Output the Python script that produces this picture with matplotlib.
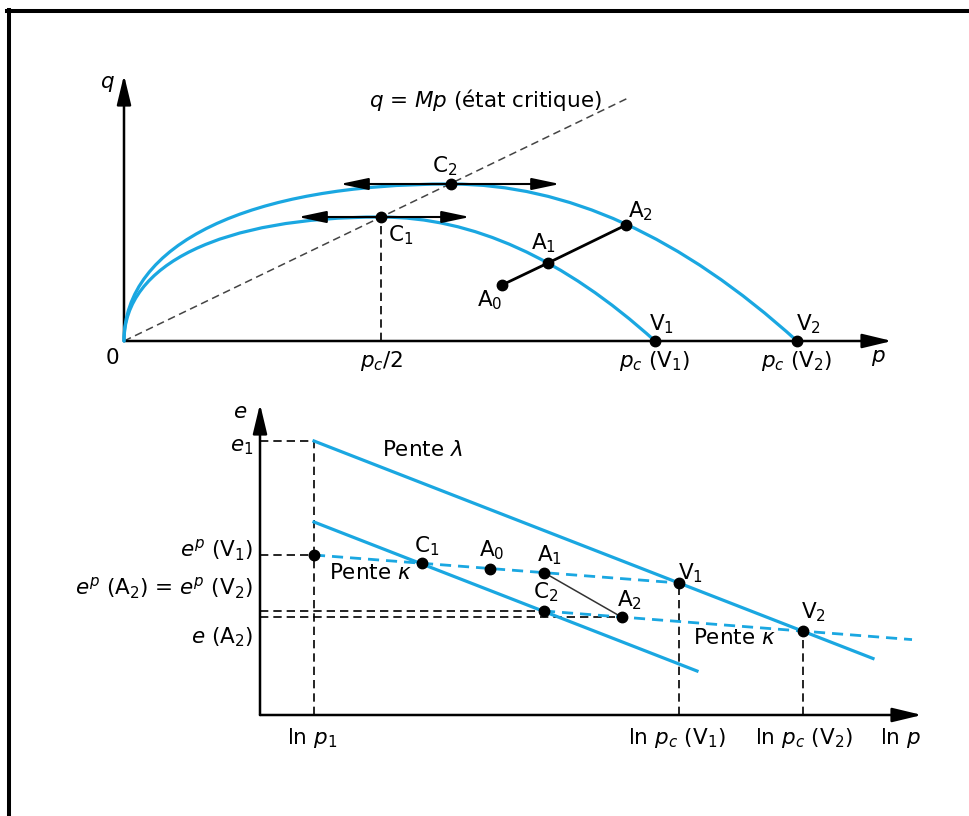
import matplotlib
matplotlib.use("Agg")
import matplotlib.pyplot as plt
from matplotlib.path import Path
from matplotlib.patches import PathPatch
from matplotlib.lines import Line2D

W, H = 969, 816
BLUE = "#1aa7e1"
plt.rcParams["font.family"] = ["DejaVu Sans"]
plt.rcParams["mathtext.fontset"] = "dejavusans"
FS = 15.5

# ---------------- q-p plane (schematic units) ----------------
M_slope = 0.482                     # q = M p
pc_V = [531, 673]                   # p_c(V1), p_c(V2)
p_C = [257, 327]                    # summits C1, C2 (p_c/2)
q_C = [124, 157]
A_names = ["A$_0$", "A$_1$", "A$_2$"]
A_p = [378, 424, 502]
A_q = [56, 78, 116]
arrow_C = [(174, 346), (216, 436)]  # horizontal arrows through C1, C2
M_line_end = 506

# ---------------- e - ln p plane (schematic units) ----------------
ln_p1 = 54
ln_pcV = [419, 543]
e1 = 274
ep_V1 = 160
ncl_x = [54, 613]
ncl_e = [274, 56.5]
csl_x = [54, 437]
csl_e = [193, 44]
k1_x = [54, 419]
k1_e = [160, 132]
k2_x = [284, 652]
k2_e = [104, 75.4]
pts_names = ["C$_1$", "A$_0$", "A$_1$", "V$_1$", "C$_2$", "A$_2$", "V$_2$"]
pts_x = [162, 230, 284, 419, 284, 362, 543]
pts_e = [152, 146.5, 142.4, 132, 104, 97.7, 83.8]

fig = plt.figure(figsize=(W / 100, H / 100), dpi=100)

# origin of q-p plane at pixel (124, 341); 1 unit = 1 px
ax1 = fig.add_axes([0, 1 - 400 / H, 1, 400 / H])
ax1.set_xlim(-124, W - 124)
ax1.set_ylim(341 - 400, 341)
ax1.axis("off")

# origin of e-ln p plane at pixel (260, 715)
ax2 = fig.add_axes([0, 0, 1, 416 / H])
ax2.set_xlim(-260, W - 260)
ax2.set_ylim(715 - 816, 715 - 400)
ax2.axis("off")


def axis_arrow(ax, tip):
    ax.annotate("", xy=tip, xytext=(0, 0),
                arrowprops=dict(arrowstyle="-|>,head_length=1.0,head_width=0.24",
                                lw=1.8, color="black", shrinkA=0, shrinkB=0,
                                mutation_scale=18))


def dot(ax, x, y):
    ax.plot([x], [y], "o", color="black", ms=7.5, zorder=6)


# ---- top panel ----
axis_arrow(ax1, (0, 266))
axis_arrow(ax1, (768, 0))

# critical state line
ax1.plot([0, M_line_end], [0, M_slope * M_line_end], color="#444444",
         lw=1.1, ls=(0, (5, 3)), zorder=2)

# yield curves: rounded rise to the summit, then parabola down to p_c
k = 0.62
for pc, pm, qm in zip(pc_V, p_C, q_C):
    verts = [(0, 0), (0, k * qm), (pm - k * pm, qm), (pm, qm),
             ((pm + pc) / 2, qm), (pc, 0)]
    codes = [Path.MOVETO, Path.CURVE4, Path.CURVE4, Path.CURVE4,
             Path.CURVE3, Path.CURVE3]
    ax1.add_patch(PathPatch(Path(verts, codes), fill=False, ec=BLUE,
                            lw=2.3, zorder=3, capstyle="round"))

for (x0, x1), qm in zip(arrow_C, q_C):
    ax1.annotate("", xy=(x1, qm), xytext=(x0, qm),
                 arrowprops=dict(arrowstyle="<|-|>,head_length=0.95,head_width=0.2",
                                 lw=1.5, color="black", shrinkA=0, shrinkB=0,
                                 mutation_scale=18), zorder=4)

ax1.plot([p_C[0], p_C[0]], [0, q_C[0]], color="black", lw=1.2,
         ls=(0, (5, 3)), zorder=2)

ax1.plot(A_p, A_q, color="black", lw=2.0, zorder=4)
for p, q in zip(A_p, A_q):
    dot(ax1, p, q)
for p, q in zip(p_C, q_C):
    dot(ax1, p, q)
for pc in pc_V:
    dot(ax1, pc, 0)

t = dict(fontsize=FS, color="black")
ax1.text(-17, 257, "$q$", ha="center", va="center", **t)
ax1.text(-12, -17, "0", ha="center", va="center", **t)
ax1.text(p_C[0], -20, "$p_c$/2", ha="center", va="center", **t)
ax1.text(pc_V[0], -20, "$p_c$ (V$_1$)", ha="center", va="center", **t)
ax1.text(pc_V[1], -20, "$p_c$ (V$_2$)", ha="center", va="center", **t)
ax1.text(754, -17, "$p$", ha="center", va="center", **t)
ax1.text(361, 241, "$q$ = $Mp$ (état critique)", ha="center", va="center", **t)
ax1.text(p_C[1] - 6, q_C[1] + 18, "C$_2$", ha="center", va="center", **t)
ax1.text(p_C[0] + 20, q_C[0] - 18, "C$_1$", ha="center", va="center", **t)
ax1.text(A_p[0] - 12, A_q[0] - 15, A_names[0], ha="center", va="center", **t)
ax1.text(A_p[1] - 4, A_q[1] + 20, A_names[1], ha="center", va="center", **t)
ax1.text(A_p[2] + 15, A_q[2] + 14, A_names[2], ha="center", va="center", **t)
ax1.text(pc_V[0] + 7, 17, "V$_1$", ha="center", va="center", **t)
ax1.text(pc_V[1] + 12, 17, "V$_2$", ha="center", va="center", **t)

# ---- bottom panel ----
axis_arrow(ax2, (0, 311))
axis_arrow(ax2, (662, 0))

dash = dict(color="black", lw=1.2, ls=(0, (5, 3)), zorder=2)
ax2.plot([0, ln_p1], [e1, e1], **dash)
ax2.plot([ln_p1, ln_p1], [0, e1], **dash)
ax2.plot([0, ln_p1], [ep_V1, ep_V1], **dash)
ax2.plot([0, pts_x[4]], [pts_e[4], pts_e[4]], **dash)
ax2.plot([0, pts_x[5]], [pts_e[5], pts_e[5]], **dash)
ax2.plot([ln_pcV[0], ln_pcV[0]], [0, pts_e[3]], **dash)
ax2.plot([ln_pcV[1], ln_pcV[1]], [0, pts_e[6]], **dash)

ax2.plot(ncl_x, ncl_e, color=BLUE, lw=2.3, zorder=3)
ax2.plot(csl_x, csl_e, color=BLUE, lw=2.3, zorder=3)
ax2.plot(k1_x, k1_e, color=BLUE, lw=2.0, ls=(0, (4, 2.5)), zorder=3)
ax2.plot(k2_x, k2_e, color=BLUE, lw=2.0, ls=(0, (4, 2.5)), zorder=3)

ax2.plot([pts_x[2], pts_x[5]], [pts_e[2], pts_e[5]], color="#333333",
         lw=1.1, zorder=4)

dot(ax2, ln_p1, ep_V1)
for x, e in zip(pts_x, pts_e):
    dot(ax2, x, e)

ax2.text(-20, 303, "$e$", ha="center", va="center", **t)
ax2.text(-7, 268, "$e_1$", ha="right", va="center", **t)
ax2.text(-7, 165, "$e^p$ (V$_1$)", ha="right", va="center", **t)
ax2.text(-7, 127, "$e^p$ (A$_2$) = $e^p$ (V$_2$)", ha="right", va="center", **t)
ax2.text(-7, 78, "$e$ (A$_2$)", ha="right", va="center", **t)
ax2.text(ln_p1 - 2, -23, "ln $p_1$", ha="center", va="center", **t)
ax2.text(ln_pcV[0] - 2, -23, "ln $p_c$ (V$_1$)", ha="center", va="center", **t)
ax2.text(ln_pcV[1] + 1, -23, "ln $p_c$ (V$_2$)", ha="center", va="center", **t)
ax2.text(641, -23, "ln $p$", ha="center", va="center", **t)
ax2.text(162, 265, "Pente $\\lambda$", ha="center", va="center", **t)
ax2.text(110, 142, "Pente $\\kappa$", ha="center", va="center", **t)
ax2.text(474, 77, "Pente $\\kappa$", ha="center", va="center", **t)

lab_off = [(5, 17), (2, 18), (6, 17), (12, 10), (2, 19), (8, 17), (11, 19)]
for name, x, e, (dx, de) in zip(pts_names, pts_x, pts_e, lab_off):
    ax2.text(x + dx, e + de, name, ha="center", va="center", **t)

# page frame
fig.add_artist(Line2D([7 / W, 1], [1 - 11.3 / H, 1 - 11.3 / H],
                      transform=fig.transFigure, color="black", lw=2.9))
fig.add_artist(Line2D([9.3 / W, 9.3 / W], [0, 1 - 9.5 / H],
                      transform=fig.transFigure, color="black", lw=2.9))

fig.savefig("out.png", dpi=100, facecolor="white")
